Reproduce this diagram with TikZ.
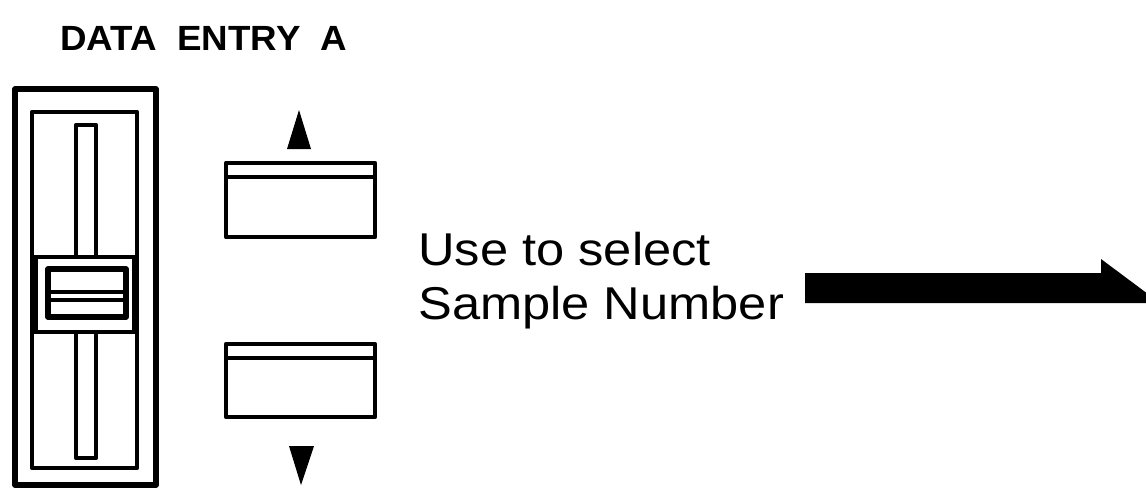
\documentclass[tikz,border=0pt]{standalone}
\usepackage{fontspec}
\setmainfont{Liberation Sans}
\newfontfamily\labelfont[FakeStretch=1.1]{Liberation Sans}
\newfontfamily\titlefont[FakeStretch=1.05]{Liberation Sans}
\begin{document}
\begin{tikzpicture}[x=0.5pt,y=-0.5pt,
  thickline/.style={draw=black,line width=2.7pt,line join=round},
  midline/.style={draw=black,line width=2.3pt,line join=round},
  fillblack/.style={fill=black,draw=none},
  txt/.style={inner sep=0pt,anchor=base west,font=\labelfont\fontsize{23}{27}\selectfont},
  ttl/.style={inner sep=0pt,anchor=base west,font=\titlefont\bfseries\fontsize{17.5}{20}\selectfont}]
\useasboundingbox (0,0) rectangle (1146,489);
\clip (0,0) rectangle (1146,489);
% title
\node[ttl] (title) at (60,50) {DATA\ \ ENTRY\ \ A};
% slider housing
\draw[thickline] (15,89) rectangle (156,485);
\draw[midline] (32,112) rectangle (137,468);
% slots
\draw[midline] (76,257) -- (76,125) -- (96,125) -- (96,257);
\draw[midline] (76,332) -- (76,458) -- (96,458) -- (96,332);
% knob band
\draw[midline] (32,257) -- (137,257);
\draw[midline] (32,332) -- (137,332);
\draw[midline] (36,257) rectangle (134,332);
\fill[black] (32,257) rectangle (38,332);
% knob
\draw[thickline] (48,269) rectangle (126,317);
\draw[line width=2.4pt] (48,292) -- (126,292);
\draw[midline] (48,300) -- (126,300);
% up button
\draw[midline] (226,163) rectangle (375,237);
\draw[midline] (226,177) -- (375,177);
\node[draw=none,inner sep=0pt] (upbtn) at (300,200) {};
% down button
\draw[midline] (226,344) rectangle (375,417);
\draw[midline] (226,358) -- (375,358);
\node[draw=none,inner sep=0pt] (downbtn) at (300,388) {};
% up/down triangles
\fill[fillblack] (299,110) -- (311,149) -- (287,149) -- cycle;
\fill[fillblack] (289,446) -- (314,446) -- (301,485) -- cycle;
% text
\node[txt] (line1) at (418,265) {Use to select};
\node[txt] (line2) at (418,319) {Sample Number};
% big arrow
\coordinate (tail) at (805,288);
\fill[fillblack] (805,273) -- (1101,273) -- (1101,259) -- (1160,303) -- (805,303) -- cycle;
\end{tikzpicture}
\end{document}
